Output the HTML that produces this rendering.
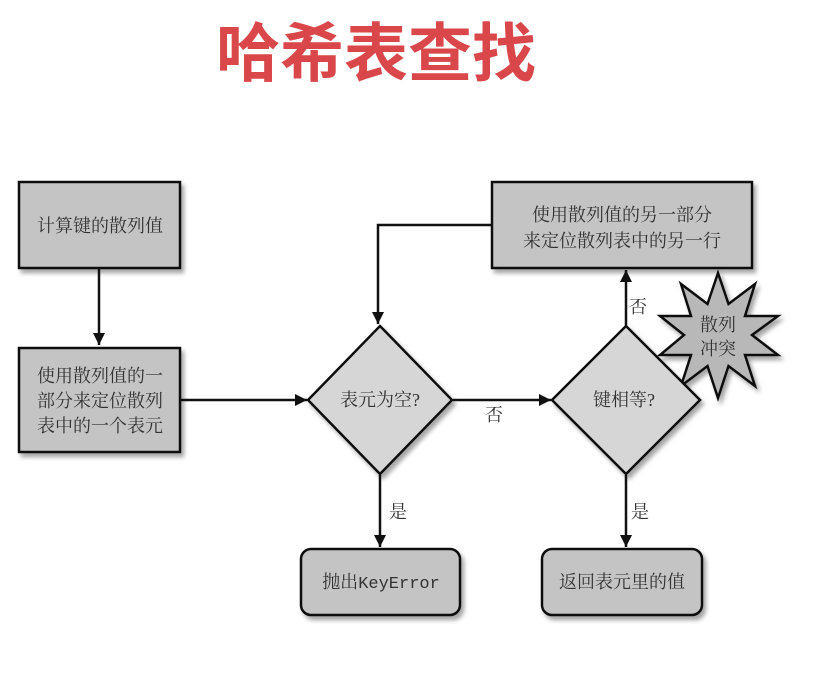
<!DOCTYPE html>
<html><head><meta charset="utf-8"><style>
body{margin:0;background:#fff;width:839px;height:668px;overflow:hidden}
text{font-family:"Liberation Serif","Noto Serif CJK SC",serif;fill:#333}
</style></head><body>
<svg width="839" height="668" viewBox="0 0 839 668" xmlns="http://www.w3.org/2000/svg">
<defs>
<marker id="a" viewBox="0 0 10 10" refX="10" refY="5" markerWidth="12" markerHeight="12" markerUnits="userSpaceOnUse" orient="auto"><path d="M0,0 L10,5 L0,10z" fill="#111"/></marker>
<filter id="s" x="-10%" y="-10%" width="130%" height="130%"><feDropShadow dx="3" dy="4" stdDeviation="2" flood-color="#000" flood-opacity="0.35"/></filter>
</defs>
<text x="376" y="76" text-anchor="middle" style="font-family:'Liberation Sans','Noto Sans CJK SC',sans-serif;font-weight:bold;font-size:64px;fill:#d9474a">哈希表查找</text>

<g stroke="#111" stroke-width="2.5" fill="#c4c4c4" filter="url(#s)">
<rect x="19" y="182" width="161" height="86"/>
<rect x="19" y="348" width="161" height="104"/>
<rect x="492" y="182" width="260" height="86"/>
<rect x="301" y="549" width="159" height="66" rx="10"/>
<rect x="542" y="549" width="160" height="66" rx="10"/>
<polygon points="718,273 728.5,304 755,284 745,316 778,316 752,335 778,355 745,355 755,386 728.5,366 718,398 707.5,366 681,386 691,355 660,355 684,335 660,316 691,316 681,284 707.5,304" fill="#b8b8b8"/>
<polygon points="380,326 452,400 380,474 308,400" fill="#d6d6d6"/>
<polygon points="626,326 700,400 626,474 552,400" fill="#d6d6d6"/>
</g>

<g stroke="#111" stroke-width="2.5" fill="none">
<line x1="99" y1="268" x2="99" y2="345" marker-end="url(#a)"/>
<line x1="181" y1="400" x2="307" y2="400" marker-end="url(#a)"/>
<line x1="453" y1="400" x2="551" y2="400" marker-end="url(#a)"/>
<polyline points="492,225 378,225 378,324" marker-end="url(#a)"/>
<line x1="626" y1="326" x2="626" y2="270" marker-end="url(#a)"/>
<line x1="380" y1="475" x2="380" y2="547" marker-end="url(#a)"/>
<line x1="626" y1="475" x2="626" y2="547" marker-end="url(#a)"/>
</g>

<g font-size="18" text-anchor="middle">
<text x="100" y="232">计算键的散列值</text>
<text x="100" y="382">使用散列值的一</text>
<text x="100" y="407">部分来定位散列</text>
<text x="100" y="432">表中的一个表元</text>
<text x="622" y="221">使用散列值的另一部分</text>
<text x="622" y="247">来定位散列表中的另一行</text>
<text x="380" y="406">表元为空?</text>
<text x="624" y="406">键相等?</text>
<text x="718" y="331">散列</text>
<text x="718" y="355">冲突</text>
<text x="381" y="588">抛出<tspan style="font-family:'Liberation Mono',monospace;font-size:17px">KeyError</tspan></text>
<text x="622" y="588">返回表元里的值</text>
<text x="638" y="313">否</text>
<text x="494" y="421">否</text>
<text x="398" y="518">是</text>
<text x="640" y="518">是</text>
</g>
</svg>
</body></html>
